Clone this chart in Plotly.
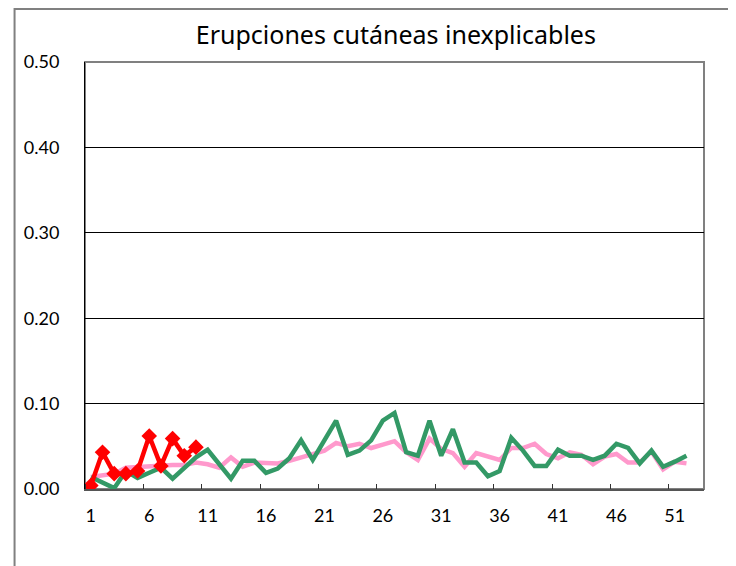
import plotly.graph_objects as go

title_text = "Erupciones cutáneas inexplicables"

weeks = list(range(1, 53))

pink_values = [0.014, 0.016, 0.018, 0.025, 0.026, 0.027, 0.028, 0.028, 0.028, 0.031,
               0.029, 0.025, 0.037, 0.026, 0.031, 0.031, 0.030, 0.033, 0.037, 0.041,
               0.045, 0.054, 0.050, 0.053, 0.048, 0.052, 0.056, 0.043, 0.034, 0.059,
               0.047, 0.042, 0.026, 0.042, 0.038, 0.034, 0.048, 0.048, 0.053, 0.041,
               0.036, 0.043, 0.040, 0.029, 0.038, 0.041, 0.031, 0.031, 0.044, 0.023,
               0.032, 0.030]

green_values = [0.014, 0.008, 0.001, 0.021, 0.013, 0.019, 0.025, 0.012, 0.024, 0.037,
                0.046, 0.028, 0.012, 0.033, 0.033, 0.019, 0.024, 0.036, 0.057, 0.034,
                0.057, 0.080, 0.040, 0.045, 0.057, 0.080, 0.089, 0.043, 0.039, 0.080,
                0.039, 0.070, 0.031, 0.031, 0.015, 0.021, 0.060, 0.045, 0.027, 0.027,
                0.046, 0.039, 0.039, 0.034, 0.039, 0.053, 0.048, 0.030, 0.045, 0.026,
                0.032, 0.039]

red_weeks = list(range(1, 11))
red_values = [0.004, 0.043, 0.018, 0.018, 0.021, 0.062, 0.027, 0.059, 0.039, 0.049]

x_tick_vals = [1, 6, 11, 16, 21, 26, 31, 36, 41, 46, 51]
y_tick_vals = [0.0, 0.1, 0.2, 0.3, 0.4, 0.5]

fig = go.Figure()
fig.add_trace(go.Scatter(x=weeks, y=pink_values, mode="lines",
                         line=dict(color="#FF99CC", width=4.5), showlegend=False))
fig.add_trace(go.Scatter(x=weeks, y=green_values, mode="lines",
                         line=dict(color="#339966", width=4.5), showlegend=False))
fig.add_trace(go.Scatter(x=red_weeks, y=red_values, mode="lines+markers",
                         line=dict(color="#FF0000", width=4.5),
                         marker=dict(symbol="diamond", size=12, color="#FF0000"),
                         showlegend=False))

tick_font = dict(family="Lato, sans-serif", size=18, color="#000000")

fig.update_layout(
    width=736, height=566,
    margin=dict(l=76.5, r=40, t=54, b=85),
    paper_bgcolor="white", plot_bgcolor="white",
    title=dict(text=title_text, x=0.527, xanchor="center", y=0.952, yanchor="middle",
               font=dict(family="Noto Sans, sans-serif", size=25, color="#000000")),
    xaxis=dict(range=[0.5, 53.5], tickmode="array", tickvals=x_tick_vals,
               ticktext=[str(v) for v in x_tick_vals], ticks="", showgrid=False,
               tickfont=tick_font, ticklabelstandoff=9,
               showline=True, linecolor="#555555", linewidth=2, zeroline=False,
               minor=dict(tick0=0.5, dtick=5, ticks="inside", ticklen=5,
                          tickcolor="#333333", tickwidth=1, showgrid=False)),
    yaxis=dict(range=[0, 0.5], tickmode="array", tickvals=y_tick_vals,
               tickformat=".2f", ticks="", showgrid=True, gridcolor="#000000",
               gridwidth=1, tickfont=tick_font, ticklabelstandoff=21,
               showline=True, linecolor="#000000", linewidth=1, zeroline=False),
)

# plot-area frame
fig.add_shape(type="rect", xref="paper", yref="paper", x0=0, x1=1, y0=0, y1=1,
              line=dict(color="#808080", width=2), layer="below")
# outer chart border
fig.add_shape(type="rect", xref="paper", yref="paper", x0=-0.1138, x1=1.0404,
              y0=-0.25, y1=1.124, line=dict(color="#808080", width=2))

fig.write_html("out.html")
